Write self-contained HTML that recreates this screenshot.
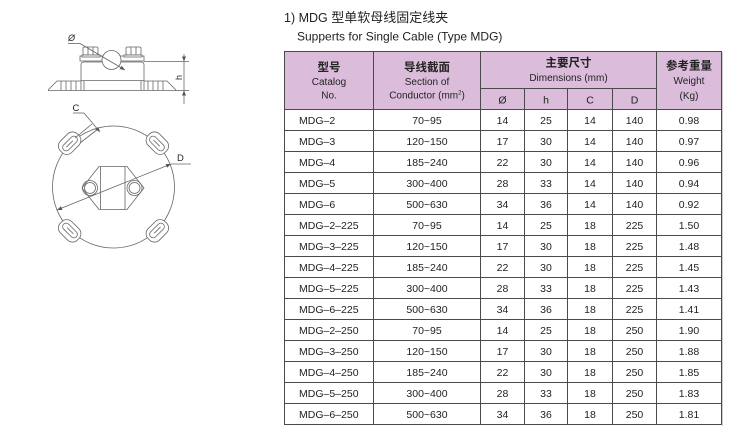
<!DOCTYPE html>
<html>
<head>
<meta charset="utf-8">
<style>
html,body{margin:0;padding:0;background:#fff;}
body{width:730px;height:438px;overflow:hidden;}
svg{display:block;}
.t{font-family:"Liberation Sans","Noto Sans CJK SC",sans-serif;fill:#222;}
.cj{font-family:"Liberation Sans","Noto Sans CJK SC",sans-serif;fill:#222;font-weight:bold;}
</style>
</head>
<body>
<svg width="730" height="438" viewBox="0 0 730 438" xmlns="http://www.w3.org/2000/svg">
<defs>
<marker id="ar" markerWidth="6" markerHeight="6" refX="5" refY="3" orient="auto" markerUnits="userSpaceOnUse">
<path d="M0,1 L5,3 L0,5 Z" fill="#555"/>
</marker>
<marker id="al" markerWidth="6" markerHeight="6" refX="0" refY="3" orient="auto" markerUnits="userSpaceOnUse">
<path d="M5,1 L0,3 L5,5 Z" fill="#555"/>
</marker>
</defs>

<!-- Title -->
<text class="t" x="284" y="22" font-size="12.5">1) MDG <tspan font-size="13">型单软母线固定线夹</tspan></text>
<text class="t" x="297" y="40.5" font-size="12">Supperts for Single Cable (Type MDG)</text>

<!-- Drawing: side view -->
<g stroke="#666" stroke-width="0.8" fill="none">
<polyline points="48,90 57,81 81,81"/>
<polyline points="144,81 167,81 176,90"/>
<line x1="48" y1="90.5" x2="176" y2="90.5"/>
<line x1="61" y1="81" x2="61" y2="90"/>
<line x1="66" y1="81" x2="66" y2="90"/>
<line x1="71" y1="81" x2="71" y2="90"/>
<line x1="76" y1="81" x2="76" y2="90"/>
<line x1="148" y1="81" x2="148" y2="90"/>
<line x1="153" y1="81" x2="153" y2="90"/>
<line x1="158" y1="81" x2="158" y2="90"/>
<line x1="163" y1="81" x2="163" y2="90"/>
<path d="M81,90 L81,65 Q81,62 84,62 L141,62 Q144,62 144,65 L144,90"/>
<line x1="81" y1="80.5" x2="144" y2="80.5"/>
<line x1="84" y1="81" x2="84" y2="90"/>
<line x1="141" y1="81" x2="141" y2="90"/>
<rect x="80" y="56" width="64" height="5" fill="#fff"/>
<rect x="83" y="47" width="15" height="8" rx="1.5" fill="#fff"/>
<line x1="88" y1="47" x2="88" y2="55"/>
<line x1="93" y1="47" x2="93" y2="55"/>
<rect x="126" y="47" width="15" height="8" rx="1.5" fill="#fff"/>
<line x1="131" y1="47" x2="131" y2="55"/>
<line x1="136" y1="47" x2="136" y2="55"/>
<rect x="82" y="55" width="18" height="2" fill="#fff"/>
<rect x="124" y="55" width="18" height="2" fill="#fff"/>
<circle cx="111.5" cy="60" r="9.5" fill="#fff"/>
<!-- phi leader -->
<line x1="68" y1="43.5" x2="80" y2="43.5"/>
<line x1="80" y1="43.5" x2="125" y2="70" marker-end="url(#ar)"/>
<!-- h dim -->
<line x1="144" y1="61.5" x2="189" y2="61.5"/>
<line x1="176" y1="90.5" x2="189" y2="90.5"/>
<line x1="184" y1="54" x2="184" y2="61.5" marker-end="url(#ar)"/>
<line x1="184" y1="104" x2="184" y2="90.5" marker-end="url(#ar)"/>
<line x1="184" y1="61.5" x2="184" y2="90.5"/>
</g>
<text class="t" x="68" y="41" font-size="9" font-style="italic">Ø</text>
<text class="t" x="0" y="0" font-size="9" transform="translate(182,80) rotate(-90)">h</text>

<!-- Drawing: top view -->
<g stroke="#666" stroke-width="0.8" fill="none">
<circle cx="113.5" cy="187" r="61"/>
<g transform="translate(113.5,187) rotate(-135)">
<rect x="54" y="-12" width="16" height="24" rx="7" fill="#fff"/>
<rect x="58" y="-9" width="7" height="18" rx="3.5"/>
<line x1="61.5" y1="-5" x2="61.5" y2="4"/>
</g>
<g transform="translate(113.5,187) rotate(-45)">
<rect x="54" y="-12" width="16" height="24" rx="7" fill="#fff"/>
<rect x="58" y="-9" width="7" height="18" rx="3.5"/>
<line x1="61.5" y1="-5" x2="61.5" y2="4"/>
</g>
<g transform="translate(113.5,187) rotate(135)">
<rect x="54" y="-12" width="16" height="24" rx="7" fill="#fff"/>
<rect x="58" y="-9" width="7" height="18" rx="3.5"/>
<line x1="61.5" y1="-5" x2="61.5" y2="4"/>
</g>
<g transform="translate(113.5,187) rotate(45)">
<rect x="54" y="-12" width="16" height="24" rx="7" fill="#fff"/>
<rect x="58" y="-9" width="7" height="18" rx="3.5"/>
<line x1="61.5" y1="-5" x2="61.5" y2="4"/>
</g>
<polygon points="99,166.5 127,166.5 144,188 127,209.5 99,209.5 82,188"/>
<line x1="100.5" y1="166.5" x2="100.5" y2="209.5"/>
<line x1="125" y1="166.5" x2="125" y2="209.5"/>
<circle cx="90" cy="188" r="7.5"/>
<circle cx="90" cy="188" r="5.5"/>
<circle cx="134.5" cy="188" r="7.5"/>
<circle cx="134.5" cy="188" r="5.5"/>
<!-- D dim -->
<line x1="57" y1="210" x2="171" y2="164" marker-start="url(#al)" marker-end="url(#ar)"/>
<line x1="171" y1="164" x2="191" y2="164"/>
<!-- C dim -->
<line x1="73" y1="113" x2="84" y2="113"/>
<line x1="84" y1="113" x2="100" y2="132" marker-end="url(#ar)"/>
<line x1="75" y1="138" x2="92" y2="124"/>
<line x1="80" y1="143" x2="98" y2="129"/>
</g>
<text class="t" x="72.5" y="111" font-size="9.5">C</text>
<text class="t" x="177" y="161" font-size="9.5">D</text>

<!-- Table header background -->
<rect x="284.5" y="51.5" width="437" height="58" fill="#dbbddb"/>
<line x1="722.5" y1="52" x2="722.5" y2="426" stroke="#ccc" stroke-width="1"/>

<!-- Table lines -->
<g stroke="#4a4a4a" stroke-width="1" fill="none">
<rect x="284.5" y="51.5" width="437" height="373"/>
<line x1="373.5" y1="51.5" x2="373.5" y2="424.5"/>
<line x1="480.5" y1="51.5" x2="480.5" y2="424.5"/>
<line x1="524.5" y1="88.5" x2="524.5" y2="424.5"/>
<line x1="567.5" y1="88.5" x2="567.5" y2="424.5"/>
<line x1="612.5" y1="88.5" x2="612.5" y2="424.5"/>
<line x1="656.5" y1="51.5" x2="656.5" y2="424.5"/>
<line x1="480.5" y1="88.5" x2="656.5" y2="88.5"/>
<line x1="284.5" y1="109.5" x2="721.5" y2="109.5"/>
<line x1="284.5" y1="130.5" x2="721.5" y2="130.5"/>
<line x1="284.5" y1="151.5" x2="721.5" y2="151.5"/>
<line x1="284.5" y1="172.5" x2="721.5" y2="172.5"/>
<line x1="284.5" y1="193.5" x2="721.5" y2="193.5"/>
<line x1="284.5" y1="214.5" x2="721.5" y2="214.5"/>
<line x1="284.5" y1="235.5" x2="721.5" y2="235.5"/>
<line x1="284.5" y1="256.5" x2="721.5" y2="256.5"/>
<line x1="284.5" y1="277.5" x2="721.5" y2="277.5"/>
<line x1="284.5" y1="298.5" x2="721.5" y2="298.5"/>
<line x1="284.5" y1="319.5" x2="721.5" y2="319.5"/>
<line x1="284.5" y1="340.5" x2="721.5" y2="340.5"/>
<line x1="284.5" y1="361.5" x2="721.5" y2="361.5"/>
<line x1="284.5" y1="382.5" x2="721.5" y2="382.5"/>
<line x1="284.5" y1="403.5" x2="721.5" y2="403.5"/>
</g>

<!-- Header text -->
<g text-anchor="middle">
<text class="cj" x="329" y="71" font-size="11.5">型号</text>
<text class="t" x="329" y="85" font-size="10">Catalog</text>
<text class="t" x="329" y="98.5" font-size="10">No.</text>
<text class="cj" x="427" y="71" font-size="11.5">导线截面</text>
<text class="t" x="427" y="85" font-size="10">Section of</text>
<text class="t" x="427" y="98.5" font-size="10">Conductor (mm<tspan font-size="6" dy="-4">2</tspan><tspan dy="4">)</tspan></text>
<text class="cj" x="568.5" y="66.5" font-size="11.5">主要尺寸</text>
<text class="t" x="568.5" y="81" font-size="10">Dimensions (mm)</text>
<text class="t" x="502.5" y="103.5" font-size="10.5">Ø</text>
<text class="t" x="546" y="103.5" font-size="10.5">h</text>
<text class="t" x="590" y="103.5" font-size="10.5">C</text>
<text class="t" x="634.5" y="103.5" font-size="10.5">D</text>
<text class="cj" x="689" y="69.5" font-size="11.5">参考重量</text>
<text class="t" x="689" y="84" font-size="10">Weight</text>
<text class="t" x="689" y="99" font-size="10">(Kg)</text>
</g>

<!-- Rows -->
<g font-size="10.5">
<g class="rowtxt">
<text class="t" x="299" y="124">MDG–2</text>
<text class="t" x="299" y="145">MDG–3</text>
<text class="t" x="299" y="166">MDG–4</text>
<text class="t" x="299" y="187">MDG–5</text>
<text class="t" x="299" y="208">MDG–6</text>
<text class="t" x="299" y="229">MDG–2–225</text>
<text class="t" x="299" y="250">MDG–3–225</text>
<text class="t" x="299" y="271">MDG–4–225</text>
<text class="t" x="299" y="292">MDG–5–225</text>
<text class="t" x="299" y="313">MDG–6–225</text>
<text class="t" x="299" y="334">MDG–2–250</text>
<text class="t" x="299" y="355">MDG–3–250</text>
<text class="t" x="299" y="376">MDG–4–250</text>
<text class="t" x="299" y="397">MDG–5–250</text>
<text class="t" x="299" y="418">MDG–6–250</text>
</g>
<g text-anchor="middle">
<text class="t" x="427" y="124">70~95</text>
<text class="t" x="427" y="145">120~150</text>
<text class="t" x="427" y="166">185~240</text>
<text class="t" x="427" y="187">300~400</text>
<text class="t" x="427" y="208">500~630</text>
<text class="t" x="427" y="229">70~95</text>
<text class="t" x="427" y="250">120~150</text>
<text class="t" x="427" y="271">185~240</text>
<text class="t" x="427" y="292">300~400</text>
<text class="t" x="427" y="313">500~630</text>
<text class="t" x="427" y="334">70~95</text>
<text class="t" x="427" y="355">120~150</text>
<text class="t" x="427" y="376">185~240</text>
<text class="t" x="427" y="397">300~400</text>
<text class="t" x="427" y="418">500~630</text>

<text class="t" x="502.5" y="124">14</text>
<text class="t" x="502.5" y="145">17</text>
<text class="t" x="502.5" y="166">22</text>
<text class="t" x="502.5" y="187">28</text>
<text class="t" x="502.5" y="208">34</text>
<text class="t" x="502.5" y="229">14</text>
<text class="t" x="502.5" y="250">17</text>
<text class="t" x="502.5" y="271">22</text>
<text class="t" x="502.5" y="292">28</text>
<text class="t" x="502.5" y="313">34</text>
<text class="t" x="502.5" y="334">14</text>
<text class="t" x="502.5" y="355">17</text>
<text class="t" x="502.5" y="376">22</text>
<text class="t" x="502.5" y="397">28</text>
<text class="t" x="502.5" y="418">34</text>

<text class="t" x="546" y="124">25</text>
<text class="t" x="546" y="145">30</text>
<text class="t" x="546" y="166">30</text>
<text class="t" x="546" y="187">33</text>
<text class="t" x="546" y="208">36</text>
<text class="t" x="546" y="229">25</text>
<text class="t" x="546" y="250">30</text>
<text class="t" x="546" y="271">30</text>
<text class="t" x="546" y="292">33</text>
<text class="t" x="546" y="313">36</text>
<text class="t" x="546" y="334">25</text>
<text class="t" x="546" y="355">30</text>
<text class="t" x="546" y="376">30</text>
<text class="t" x="546" y="397">33</text>
<text class="t" x="546" y="418">36</text>

<text class="t" x="590" y="124">14</text>
<text class="t" x="590" y="145">14</text>
<text class="t" x="590" y="166">14</text>
<text class="t" x="590" y="187">14</text>
<text class="t" x="590" y="208">14</text>
<text class="t" x="590" y="229">18</text>
<text class="t" x="590" y="250">18</text>
<text class="t" x="590" y="271">18</text>
<text class="t" x="590" y="292">18</text>
<text class="t" x="590" y="313">18</text>
<text class="t" x="590" y="334">18</text>
<text class="t" x="590" y="355">18</text>
<text class="t" x="590" y="376">18</text>
<text class="t" x="590" y="397">18</text>
<text class="t" x="590" y="418">18</text>

<text class="t" x="634.5" y="124">140</text>
<text class="t" x="634.5" y="145">140</text>
<text class="t" x="634.5" y="166">140</text>
<text class="t" x="634.5" y="187">140</text>
<text class="t" x="634.5" y="208">140</text>
<text class="t" x="634.5" y="229">225</text>
<text class="t" x="634.5" y="250">225</text>
<text class="t" x="634.5" y="271">225</text>
<text class="t" x="634.5" y="292">225</text>
<text class="t" x="634.5" y="313">225</text>
<text class="t" x="634.5" y="334">250</text>
<text class="t" x="634.5" y="355">250</text>
<text class="t" x="634.5" y="376">250</text>
<text class="t" x="634.5" y="397">250</text>
<text class="t" x="634.5" y="418">250</text>

<text class="t" x="689" y="124">0.98</text>
<text class="t" x="689" y="145">0.97</text>
<text class="t" x="689" y="166">0.96</text>
<text class="t" x="689" y="187">0.94</text>
<text class="t" x="689" y="208">0.92</text>
<text class="t" x="689" y="229">1.50</text>
<text class="t" x="689" y="250">1.48</text>
<text class="t" x="689" y="271">1.45</text>
<text class="t" x="689" y="292">1.43</text>
<text class="t" x="689" y="313">1.41</text>
<text class="t" x="689" y="334">1.90</text>
<text class="t" x="689" y="355">1.88</text>
<text class="t" x="689" y="376">1.85</text>
<text class="t" x="689" y="397">1.83</text>
<text class="t" x="689" y="418">1.81</text>
</g>
</g>
</svg>
</body>
</html>
